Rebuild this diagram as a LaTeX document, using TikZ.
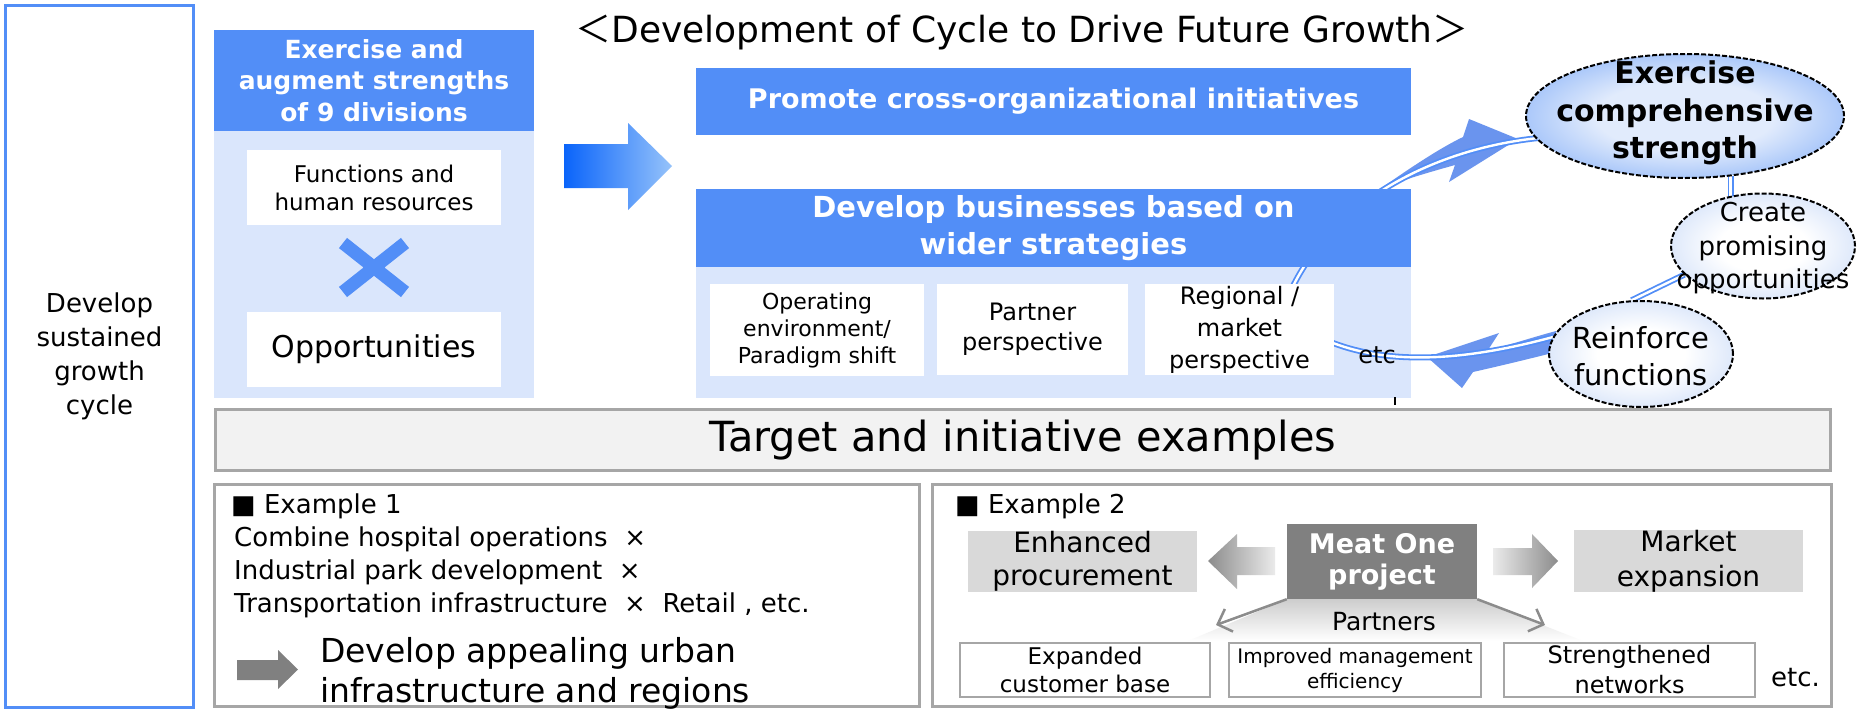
\documentclass[tikz,border=0pt]{standalone}
\usepackage{fontspec}
\setmainfont{DejaVu Sans}
\newfontfamily\cjk{Noto Sans CJK JP}
\usetikzlibrary{positioning, arrows.meta, shapes.geometric, calc}

\definecolor{cyblue}{RGB}{82,142,247}
\definecolor{cylight}{RGB}{218,230,252}
\definecolor{cyswoosh}{RGB}{106,148,238}
\definecolor{arrowdeep}{RGB}{10,100,250}
\definecolor{arrowpale}{RGB}{150,195,250}
\definecolor{exgray}{RGB}{166,166,166}
\definecolor{bannergray}{RGB}{242,242,242}
\definecolor{meatgray}{RGB}{128,128,128}
\definecolor{resultgray}{RGB}{217,217,217}
\definecolor{fangray}{RGB}{205,205,205}
\definecolor{fanarrow}{RGB}{140,140,140}
\definecolor{ringblue}{RGB}{78,140,245}
\definecolor{ringcore}{RGB}{225,235,252}
\definecolor{ringpale}{RGB}{160,190,242}

\newcommand{\fsz}[2]{\fontsize{#1}{#2}\selectfont}

\pgfdeclarelayer{panels}
\pgfdeclarelayer{cycle}
\pgfsetlayers{panels,cycle,main}

\pgfdeclareradialshading{bigglow}{\pgfpoint{0bp}{0bp}}{color(0bp)=(ringcore); color(14bp)=(ringcore); color(44bp)=(ringblue); color(50bp)=(ringblue)}
\pgfdeclareradialshading{smallglow}{\pgfpoint{0bp}{0bp}}{color(0bp)=(white); color(12bp)=(white); color(50bp)=(ringpale)}

\tikzset{
  hdrbox/.style={fill=cyblue, text=white, inner sep=0pt, align=center},
  paneltile/.style={fill=cylight, inner sep=0pt},
  whitebox/.style={fill=white, inner sep=0pt, align=center},
  framebox/.style={draw=exgray, line width=3pt, fill=white, inner sep=0pt},
  resultbox/.style={fill=resultgray, inner sep=0pt, align=center},
  partnerbox/.style={draw=exgray, line width=2.5pt, fill=white, inner sep=0pt, align=center},
  ring/.style={ellipse, draw=black, line width=2pt, dash pattern=on 5pt off 2pt, inner sep=0pt, shade},
  cyclink/.style={draw=cyblue, line width=1.8pt, double=white, double distance=2.4pt},
  swoosh/.style={fill=cyswoosh},
  partarrow/.style={draw=fanarrow, line width=2.5pt, -{Straight Barb[length=12pt,width=24pt]}}
}

\begin{document}
\begin{tikzpicture}[x=1pt, y=-1pt]
\useasboundingbox (0,0) rectangle (1865,712);

\node[draw=cyblue, line width=3pt, minimum width=188pt, minimum height=702pt, inner sep=0pt, align=center, font=\fsz{26}{34}] (growth) at (99.5,356.5) {Develop\\sustained\\growth\\cycle};

% strengths of the divisions
\node[hdrbox, minimum width=320pt, minimum height=101pt, font=\fsz{25}{31.5}\bfseries] (div) at (374,80.5) {Exercise and\\augment strengths\\of 9 divisions};
\node[paneltile, minimum width=320pt, minimum height=267pt, anchor=north] (divpanel) at (div.south) {};
\node[whitebox, minimum width=254pt, minimum height=75pt, font=\fsz{23}{28}] (func) at (374,187.5) {Functions and\\human resources};
\node[whitebox, minimum width=254pt, minimum height=75pt, font=\fsz{30}{36}] (opp) at (374,349.5) {Opportunities};
\draw[cyblue, line width=13pt] (343,243) -- (405,292) (343,292) -- (405,243);

\shade[left color=arrowdeep, right color=arrowpale] (564,144) -- (628,144) -- (628,123) -- (672,166) -- (628,210) -- (628,188) -- (564,188) -- cycle;

\node[font=\fsz{36}{42}] (title) at (1022,33) {{\cjk ＜}Development of Cycle to Drive Future Growth{\cjk ＞}};

% wider strategies
\node[hdrbox, minimum width=715pt, minimum height=67pt, font=\fsz{27}{33}\bfseries] (prom) at (1053.5,101.5) {Promote cross-organizational initiatives};
\node[hdrbox, minimum width=715pt, minimum height=78pt, font=\fsz{29}{37}\bfseries] (dev) at (1053.5,228) {Develop businesses based on\\wider strategies};
\begin{pgfonlayer}{panels}
  \fill[white] (0,0) rectangle (1865,712);
  \node[paneltile, minimum width=715pt, minimum height=131pt, anchor=north] (devpanel) at (dev.south) {};
\end{pgfonlayer}
\node[whitebox, minimum width=214pt, minimum height=92pt, font=\fsz{22}{27}] (env) at (817,330) {Operating\\environment/\\Paradigm shift};
\node[whitebox, minimum width=191pt, minimum height=91pt, font=\fsz{24}{30}] (partner) at (1032.5,329.5) {Partner\\perspective};
\node[whitebox, minimum width=189pt, minimum height=91pt, font=\fsz{24}{32}] (reg) at (1239.5,329.5) {Regional /\\market\\perspective};
\node[font=\fsz{24}{30}, inner sep=0pt] (etc1) at (1377,355) {etc};
\draw[line width=1.5pt] (1395,397) -- (1395,405);

% the growth cycle
\node[ring, shading=bigglow, minimum width=318pt, minimum height=124pt] (big) at (1685,116) {};
\node[font=\fsz{30}{37.5}\bfseries, align=center] (bigtext) at (1685,113) {Exercise\\comprehensive\\strength};
\node[ring, shading=smallglow, minimum width=184pt, minimum height=105pt] (create) at (1763,246) {};
\node[font=\fsz{26}{33.5}, align=center] (createtext) at (1763,248.5) {Create\\promising\\opportunities};
\node[ring, shading=smallglow, minimum width=184pt, minimum height=106pt] (reinf) at (1641,354) {};
\node[font=\fsz{29}{37}, align=center] (reinftext) at (1641,356.5) {Reinforce\\functions};

\begin{pgfonlayer}{cycle}
  \fill[swoosh] (1380,189) .. controls (1410,168) and (1440,148) .. (1463,137) -- (1469,119) -- (1518,139) -- (1449,182) -- (1455,165) .. controls (1430,172) and (1402,180) .. (1380,189) -- cycle;
  \fill[swoosh] (1427,357) -- (1499,333) -- (1488,350) .. controls (1510,345) and (1530,338) .. (1556,331) -- (1556,352) .. controls (1525,360) and (1495,367) .. (1473,372) -- (1462,388) -- cycle;
  \draw[cyclink] ($(reg.north)+(49,12)$) .. controls (1330,200) and (1440,145) .. ($(big.west)+(25,21)$);
  \draw[cyclink] ($(reg.east)+(-5,12)$) .. controls (1380,362) and (1450,365) .. ($(reinf.west)+(5,-17)$);
  \draw[cyclink] (big.-53) -- ++(0,26);
  \draw[cyclink] (create.200) -- (reinf.100);
\end{pgfonlayer}

% examples
\node[framebox, fill=bannergray, minimum width=1615pt, minimum height=61pt, font=\fsz{41.5}{48}] (target) at (1023,440) {Target and initiative examples};
\node[framebox, minimum width=705pt, minimum height=222pt] (ex1) at (567,595.5) {};
\node[framebox, minimum width=899pt, minimum height=222pt] (ex2) at (1382,595.5) {};

\node[anchor=west, inner sep=0pt, font=\fsz{26}{30}] (ex1title) at (231,506) {■\ Example 1};
\node[anchor=west, inner sep=0pt, align=left, font=\fsz{26}{33}] (ex1list) at (234,572.5) {Combine hospital operations\ \ ×\\Industrial park development\ \ ×\\Transportation infrastructure\ \ ×\ \ Retail , etc.};
\fill[meatgray] (237,660) -- (278,660) -- (278,650) -- (298,669.5) -- (278,689) -- (278,680) -- (237,680) -- cycle;
\node[anchor=west, inner sep=0pt, align=left, font=\fsz{33}{40}] (urban) at (320,673) {Develop appealing urban\\infrastructure and regions};

\node[anchor=west, inner sep=0pt, font=\fsz{26}{30}] (ex2title) at (955,506) {■\ Example 2};
\node[resultbox, minimum width=229pt, minimum height=61pt, font=\fsz{28}{33}] (enh) at (1082.5,561.5) {Enhanced\\procurement};
\node[fill=meatgray, text=white, inner sep=0pt, align=center, minimum width=190pt, minimum height=75pt, font=\fsz{27}{31}\bfseries] (meat) at (1382,561.5) {Meat One\\project};
\node[resultbox, minimum width=229pt, minimum height=60pt, font=\fsz{28}{35}] (mkt) at (1688.5,561) {Market\\expansion};
\shade[left color=fanarrow, right color=white!92!black] (1275,547) -- (1237,547) -- (1237,534) -- (1208,561) -- (1237,589) -- (1237,575) -- (1275,575) -- cycle;
\shade[left color=white!92!black, right color=fanarrow] (1493,548) -- (1532,548) -- (1532,534) -- (1558,561) -- (1532,588) -- (1532,575) -- (1493,575) -- cycle;

\shade[top color=fangray, bottom color=white] (meat.south west) -- (meat.south east) -- (1583,641) -- (1188,641) -- cycle;
\node[font=\fsz{25}{30}] (partners) at (1384,622) {Partners};
\coordinate (pleft) at (1216,625);
\coordinate (pright) at (1545,625);
\draw[partarrow] (meat.south west) -- (pleft);
\draw[partarrow] (meat.south east) -- (pright);

\node[partnerbox, minimum width=250pt, minimum height=54pt, font=\fsz{23}{28}] (cust) at (1085,670) {Expanded\\customer base};
\node[partnerbox, minimum width=252pt, minimum height=54pt, font=\fsz{20}{25}] (eff) at (1355,670) {Improved management\\efficiency};
\node[partnerbox, minimum width=251pt, minimum height=54pt, font=\fsz{24}{30}] (net) at (1629.5,670) {Strengthened\\networks};
\node[font=\fsz{26}{30}, inner sep=0pt] (etc2) at (1795.5,678) {etc.};
\end{tikzpicture}
\end{document}
